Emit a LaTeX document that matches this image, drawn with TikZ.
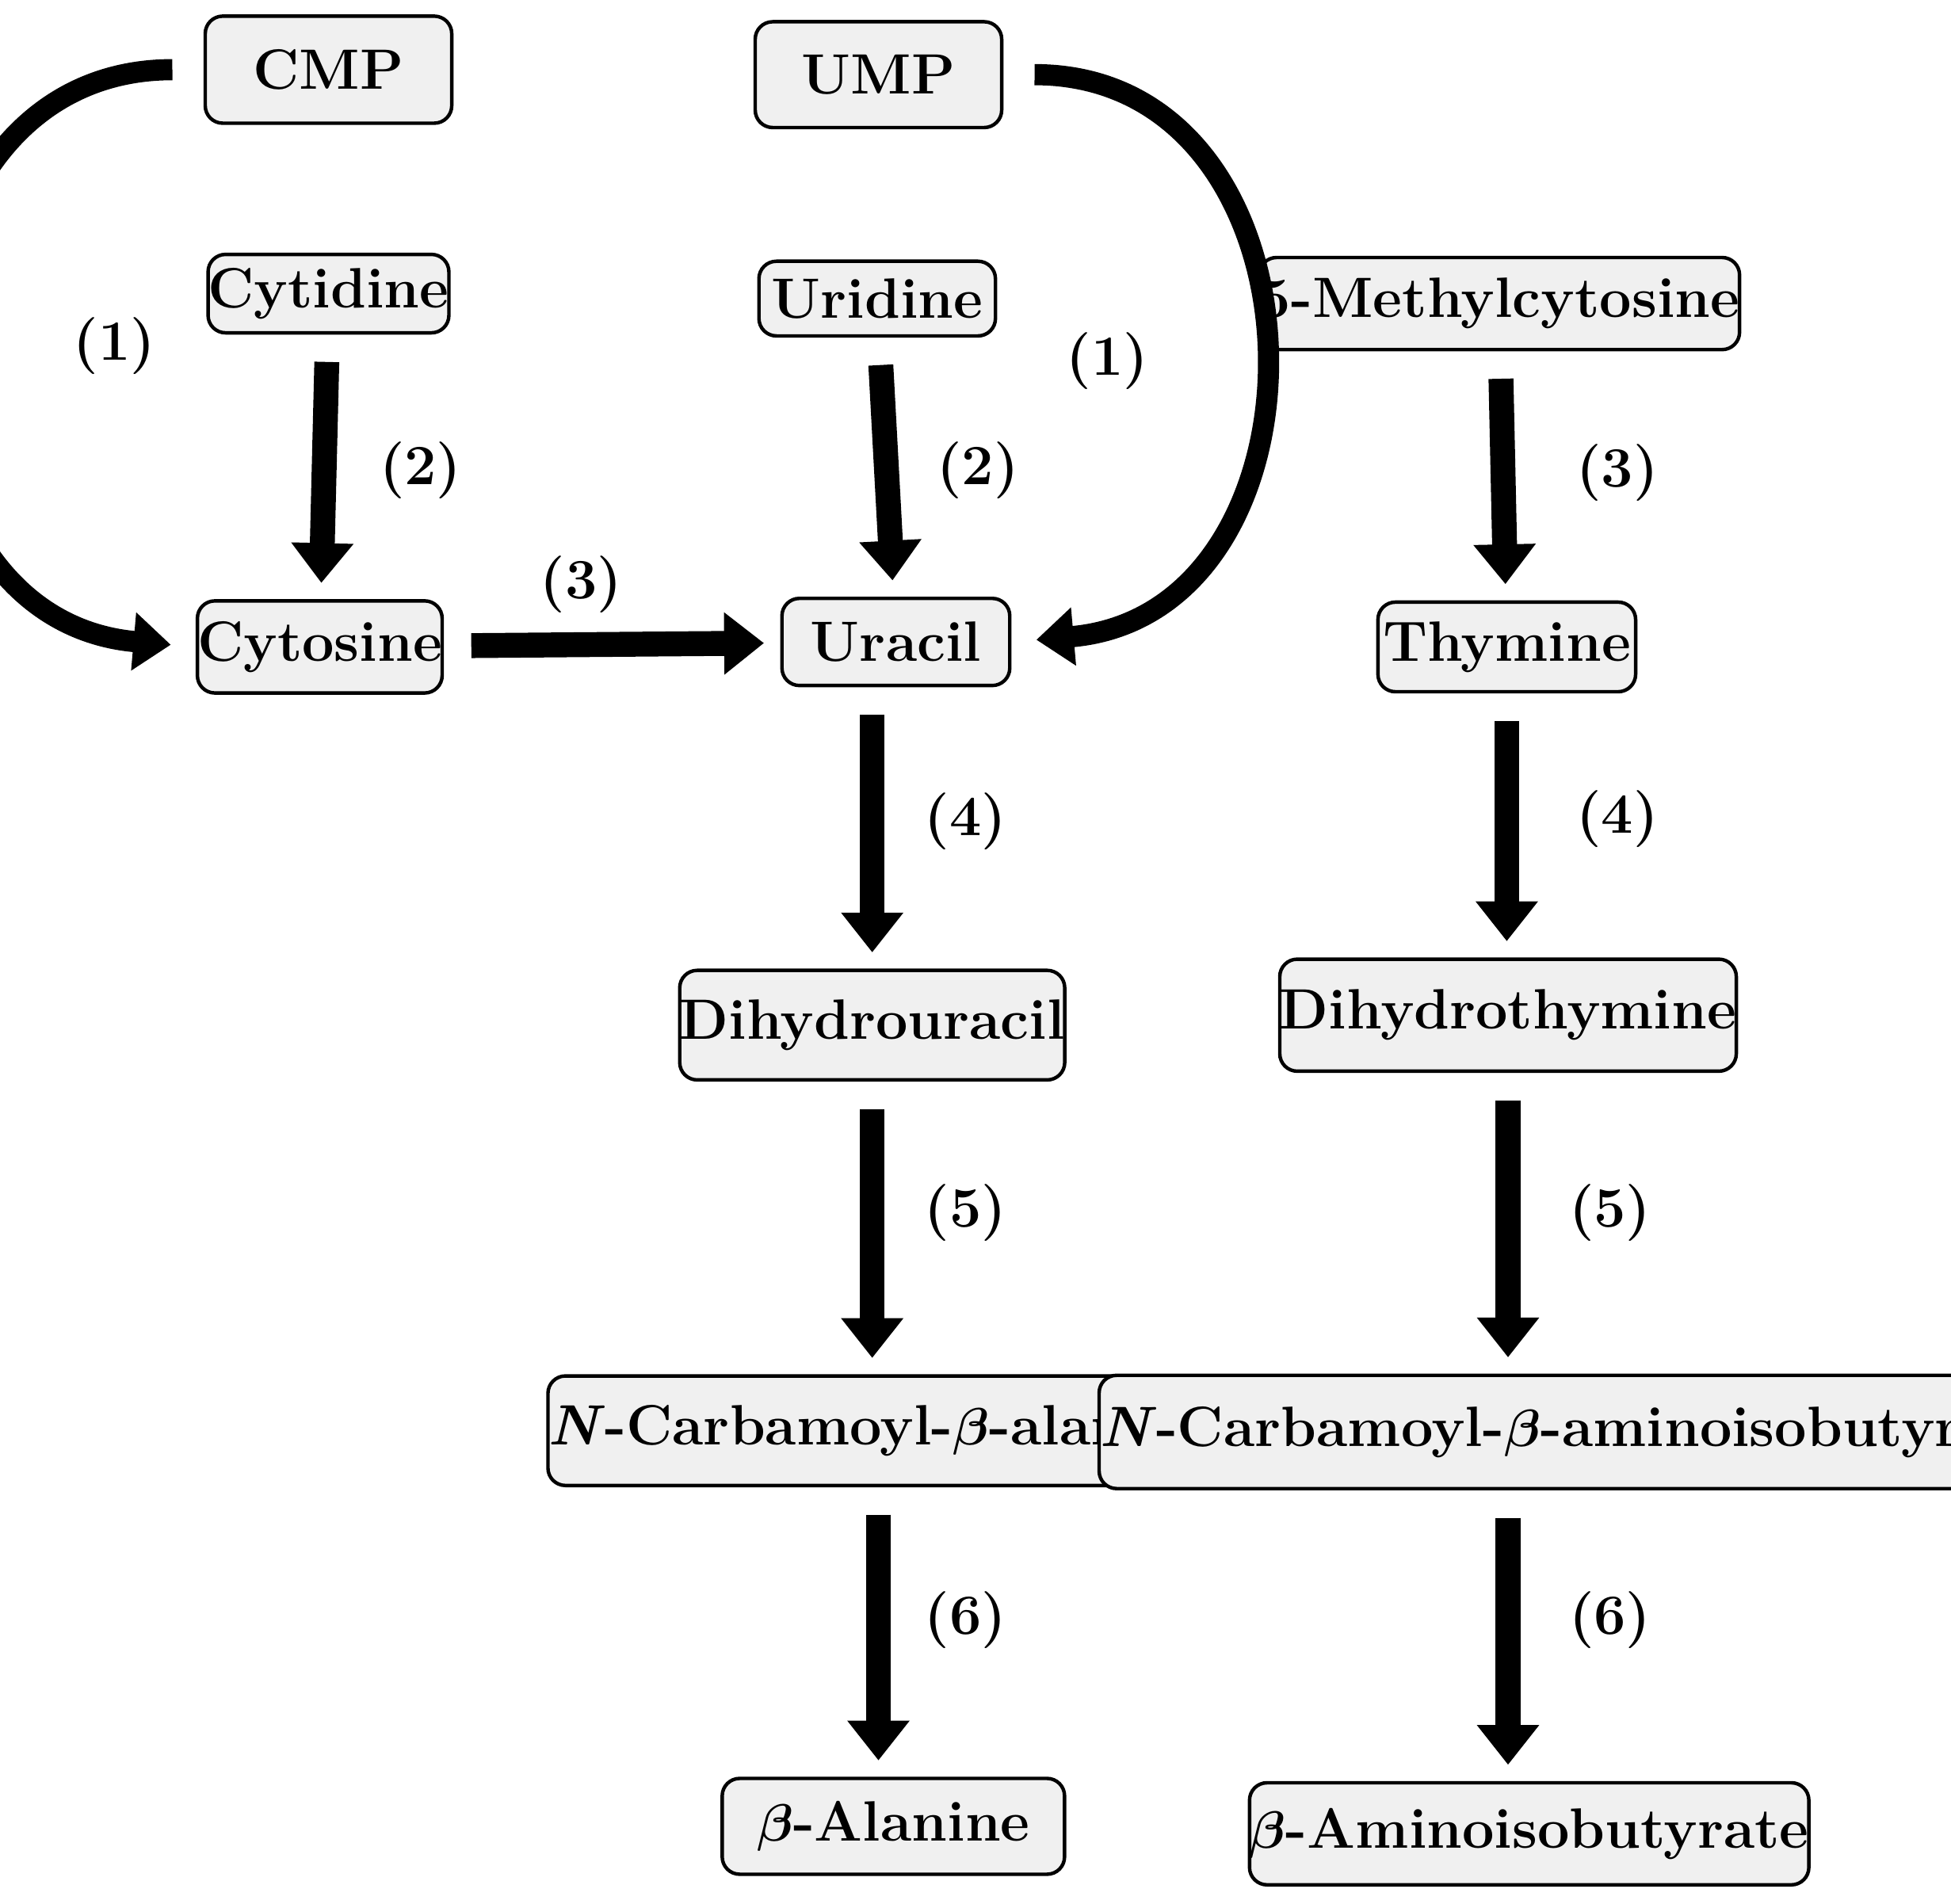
\documentclass[tikz,border=0pt]{standalone}
\usepackage{amsmath,amssymb,bm}
\usetikzlibrary{arrows.meta}
\begin{document}
\begin{tikzpicture}[x=0.01cm,y=-0.01cm,
    box/.style={draw,thick,rounded corners=4pt,fill=gray!12,font=\fontsize{13}{15}\selectfont\bfseries,inner sep=0pt},
    react/.style={line width=0.2cm,-{Triangle[width=0.48cm,length=0.32cm]},shorten <=0.22cm,shorten >=0.13cm},
    curvy/.style={line width=0.17cm,-{Triangle[width=0.45cm,length=0.3cm]},shorten <=0.25cm,shorten >=0.2cm},
    num/.style={font=\fontsize{13}{15}\selectfont\bfseries}]
    \useasboundingbox (0,0) rectangle (1568,1530);

    \node[box,minimum width=1.98cm,minimum height=0.86cm] (cmp) at (264,56) {CMP};
    \node[box,minimum width=1.98cm,minimum height=0.85cm] (ump) at (706,60) {UMP};
    \node[box,minimum width=1.88cm,minimum height=0.63cm] (cytidine) at (264,236) {Cytidine};
    \node[box,minimum width=1.90cm,minimum height=0.60cm] (uridine) at (705,240) {Uridine};
    \node[box,minimum width=3.24cm,minimum height=0.74cm] (mecyt) at (1205,244) {5-Methylcytosine};
    \node[box,minimum width=1.94cm,minimum height=0.74cm] (cytosine) at (257,520) {Cytosine};
    \node[box,minimum width=1.83cm,minimum height=0.70cm] (uracil) at (720,516) {Uracil};
    \node[box,minimum width=2.07cm,minimum height=0.72cm] (thymine) at (1211,520) {Thymine};
    \node[box,minimum width=3.09cm,minimum height=0.88cm] (dhu) at (701,824) {Dihydrouracil};
    \node[box,minimum width=3.19cm,minimum height=0.90cm] (dht) at (1212,816) {Dihydrothymine};
    \node[box,minimum width=4.16cm,minimum height=0.88cm] (ncba) at (706,1150) {\textit{N}-Carbamoyl-$\bm{\beta}$-alanine};
    \node[box,minimum width=5.83cm,minimum height=0.91cm] (ncbai) at (1264,1151) {\textit{N}-Carbamoyl-$\bm{\beta}$-aminoisobutyrate};
    \node[box,minimum width=2.75cm,minimum height=0.77cm] (bala) at (718,1468) {$\bm{\beta}$-Alanine};
    \node[box,minimum width=3.89cm,minimum height=0.82cm] (baib) at (1229,1474) {$\bm{\beta}$-Aminoisobutyrate};

    % salvage arrows
    \draw[curvy] (cmp.west) to[out=180,in=175,looseness=1.5] (cytosine.west);
    \draw[curvy] (ump.east) to[out=0,in=5,looseness=1.5] (uracil.east);

    % degradation steps
    \draw[react] (cytidine) -- (cytosine);
    \draw[react] (uridine) -- (uracil);
    \draw[react] (mecyt) -- (thymine);
    \draw[react] (cytosine) -- (uracil);
    \draw[react] (uracil.south -| dhu) -- (dhu);
    \draw[react] (thymine) -- (thymine |- dht.north);
    \draw[react] (dhu) -- (dhu |- ncba.north);
    \draw[react] (dht) -- (dht |- ncbai.north);
    \draw[react] (ncba) -- (ncba |- bala.north);
    \draw[react] (dht |- ncbai.south) -- (dht |- baib.north);

    \node[num] (n1a) at (92,278) {(1)};
    \node[num] (n1b) at (890,290) {(1)};
    \node[num] (n2a) at (338,378) {(2)};
    \node[num] (n2b) at (786,378) {(2)};
    \node[num] (n3a) at (467,470) {(3)};
    \node[num] (n3b) at (1300,380) {(3)};
    \node[num] (n4a) at (776,660) {(4)};
    \node[num] (n4b) at (1300,658) {(4)};
    \node[num] (n5a) at (776,975) {(5)};
    \node[num] (n5b) at (1294,975) {(5)};
    \node[num] (n6a) at (776,1302) {(6)};
    \node[num] (n6b) at (1294,1302) {(6)};
\end{tikzpicture}
\end{document}
